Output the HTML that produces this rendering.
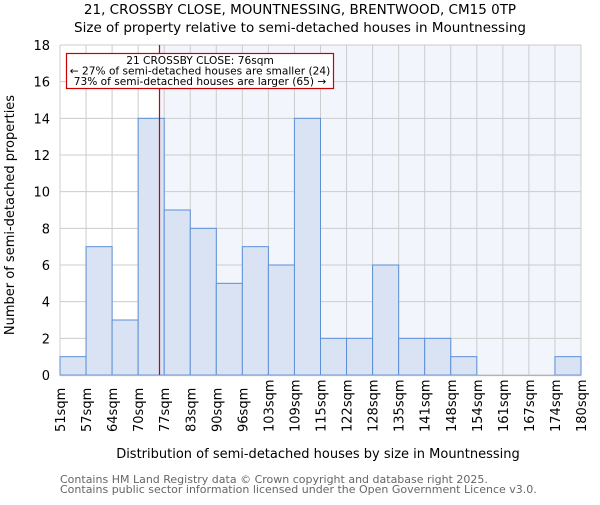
<!DOCTYPE html>
<html><head><style>body{margin:0;background:#fff}svg{font-family:"DejaVu Sans","Liberation Sans",sans-serif}</style></head><body>
<svg width="600" height="500" xmlns="http://www.w3.org/2000/svg">
<text x="300" y="14" font-size="13.5" text-anchor="middle">21, CROSSBY CLOSE, MOUNTNESSING, BRENTWOOD, CM15 0TP</text>
<text x="300" y="32" font-size="13.5" text-anchor="middle">Size of property relative to semi-detached houses in Mountnessing</text>
<rect x="159.5" y="45" width="421.5" height="330" fill="#f2f5fc"/>
<g id="grid" stroke="#cccccc" stroke-width="1"></g>
<g id="bars"></g>
<line x1="159.5" y1="45" x2="159.5" y2="375" stroke="#cc0000" stroke-width="1.2"/>
<rect x="66.5" y="53.5" width="267" height="35" fill="#fff" stroke="#cc0000" stroke-width="1.2"/>
<text x="200" y="64" font-size="10.6" text-anchor="middle">21 CROSSBY CLOSE: 76sqm</text>
<text x="200" y="74.5" font-size="10.6" text-anchor="middle">← 27% of semi-detached houses are smaller (24)</text>
<text x="200" y="85" font-size="10.6" text-anchor="middle">73% of semi-detached houses are larger (65) →</text>
<line x1="60" y1="375.5" x2="581" y2="375.5" stroke="#aab4c4" stroke-width="1.2"/>
<g id="yl" font-size="13" text-anchor="end"></g>
<g id="xl" font-size="13"></g>
<text transform="translate(14,215) rotate(-90)" font-size="13" text-anchor="middle">Number of semi-detached properties</text>
<text x="318" y="458" font-size="13" text-anchor="middle">Distribution of semi-detached houses by size in Mountnessing</text>
<text x="60" y="483" font-size="11" fill="#666">Contains HM Land Registry data © Crown copyright and database right 2025.</text>
<text x="60" y="493" font-size="11" fill="#666">Contains public sector information licensed under the Open Government Licence v3.0.</text>
</svg>
<script>
const ns="http://www.w3.org/2000/svg";
const vals=[1,7,3,14,9,8,5,7,6,14,2,2,6,2,2,1,0,0,0,1];
const labs=["51sqm","57sqm","64sqm","70sqm","77sqm","83sqm","90sqm","96sqm","103sqm","109sqm","115sqm","122sqm","128sqm","135sqm","141sqm","148sqm","154sqm","161sqm","167sqm","174sqm","180sqm"];
const x0=60,w=26.05,y0=375,s=330/18;
function el(t,a,p,txt){const e=document.createElementNS(ns,t);for(const k in a)e.setAttribute(k,a[k]);if(txt!==undefined)e.textContent=txt;document.getElementById(p).appendChild(e);}
for(let i=0;i<=20;i++){const x=x0+i*w;el("line",{x1:x,y1:45,x2:x,y2:375},"grid");}
for(let v=0;v<=18;v+=2){const y=y0-v*s;el("line",{x1:60,y1:y,x2:581,y2:y},"grid");el("text",{x:50,y:y+5},"yl",String(v));}
vals.forEach((v,i)=>{if(v>0)el("rect",{x:x0+i*w,y:y0-v*s,width:w,height:v*s,fill:"#dae3f3",stroke:"#5b8fd6","stroke-width":1},"bars");});
labs.forEach((l,i)=>{const x=x0+i*w+5;el("text",{transform:`translate(${x},432) rotate(-90)`},"xl",l);});
</script>
</body></html>
